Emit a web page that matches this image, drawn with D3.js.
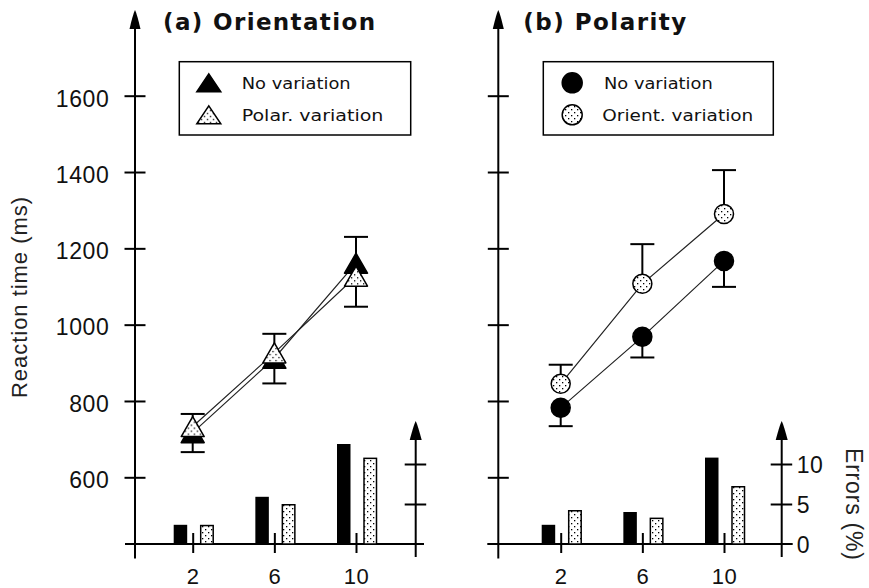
<!DOCTYPE html>
<html><head><meta charset="utf-8">
<script src="https://cdn.jsdelivr.net/npm/d3@7"></script>
<style>body{margin:0;background:#fff} svg{display:block}</style>
</head><body>
<svg id="c" width="869" height="588"></svg>
<script>
// ---------- data ----------
const setSizes = [2, 6, 10];
const rtTicks = [600, 800, 1000, 1200, 1400, 1600];
const errTicks = [0, 5, 10];
const titles = ["(a) Orientation", "(b) Polarity"];
const legendA = ["No variation", "Polar. variation"];
const legendB = ["No variation", "Orient. variation"];
// (a) Orientation
const orientNoVarRT = [717, 912, 1161];
const orientNoVarSE = [51, 66, 114];      // drawn downward
const orientPolarVarRT = [733, 926, 1127];
const orientPolarVarSE = [33, 50, 103];   // drawn upward
const orientNoVarErr = [2.4, 5.9, 12.5];
const orientPolarVarErr = [2.4, 5.0, 10.8];
// (b) Polarity
const polarNoVarRT = [782, 968, 1167];
const polarNoVarSE = [48, 54, 68];        // drawn downward
const polarOrientVarRT = [845, 1107, 1290];
const polarOrientVarSE = [50, 104, 115];  // drawn upward
const polarNoVarErr = [2.4, 4.0, 10.8];
const polarOrientVarErr = [4.25, 3.3, 7.25];

// ---------- layout ----------
const FONT = "'Liberation Sans', Arial, Helvetica, sans-serif";
const WIDE = "'DejaVu Sans', Verdana, sans-serif";
const svg = d3.select("#c");
const defs = svg.append("defs");
const pat = defs.append("pattern").attr("id", "dots").attr("patternUnits", "userSpaceOnUse")
  .attr("width", 6).attr("height", 6);
pat.append("rect").attr("width", 6).attr("height", 6).attr("fill", "#fff");
pat.append("rect").attr("x", 1).attr("y", 1).attr("width", 1.3).attr("height", 1.3).attr("fill", "#000");
pat.append("rect").attr("x", 4).attr("y", 4).attr("width", 1.3).attr("height", 1.3).attr("fill", "#000");

const yRT = d3.scaleLinear().domain([600, 1600]).range([477.3, 95.7]);
const yErr = d3.scaleLinear().domain([0, 10]).range([544, 464]);
const baseY = 544;

const panels = [
  { title: titles[0], titleX: 163, titleLen: 212, xr: [192.7, 356], axisX: 135, xFrom: 125, xTo: 424,
    errX: 415.7, showLabels: true, shape: "tri",
    noRT: orientNoVarRT, noSE: orientNoVarSE, varRT: orientPolarVarRT, varSE: orientPolarVarSE,
    noErr: orientNoVarErr, varErr: orientPolarVarErr,
    legend: legendA, legBox: [179.3, 61.7, 231.4, 73.3], legSymX: 208.8, legTextX: [241.7, 241.7], legLen: [109, 141.7] },
  { title: titles[1], titleX: 523.3, titleLen: 163, xr: [560.7, 724], axisX: 498.3, xFrom: 487.3, xTo: 792.7,
    errX: 781.7, showLabels: false, shape: "circ",
    noRT: polarNoVarRT, noSE: polarNoVarSE, varRT: polarOrientVarRT, varSE: polarOrientVarSE,
    noErr: polarNoVarErr, varErr: polarOrientVarErr,
    legend: legendB, legBox: [543.3, 61.7, 230, 73.3], legSymX: 572.2, legTextX: [604, 602.3], legLen: [108.7, 151] }
];

function triPath(w, h) {
  return `M0,${-h/2}L${w/2},${h/2}L${-w/2},${h/2}Z`;
}
function arrow(g, x, tipY, w, h) {
  g.append("path").attr("d", `M${x},${tipY}Q${x + 2},${tipY + 4} ${x + w/2},${tipY + h}L${x - w/2},${tipY + h}Q${x - 2},${tipY + 4} ${x},${tipY}Z`)
    .attr("fill", "#000");
}
function marker(g, shape, filled, x, y) {
  const fill = filled ? "#000" : "url(#dots)";
  if (shape === "tri") {
    g.append("path").attr("d", triPath(23, 20)).attr("transform", `translate(${x},${y})`)
      .attr("fill", fill).attr("stroke", "#000").attr("stroke-width", 1.5).attr("stroke-linejoin", "round");
  } else {
    g.append("circle").attr("cx", x).attr("cy", y).attr("r", 9.5)
      .attr("fill", fill).attr("stroke", "#000").attr("stroke-width", 1.5);
  }
}

panels.forEach(p => {
  const g = svg.append("g");
  const x = d3.scaleLinear().domain([2, 10]).range(p.xr);

  // title
  g.append("text").attr("x", p.titleX).attr("y", 29.5).attr("font-family", WIDE)
    .attr("font-weight", "bold").attr("font-size", 23).attr("textLength", p.titleLen)
    .attr("lengthAdjust", "spacing").attr("fill", "#111").text(p.title);

  // RT axis
  g.append("line").attr("x1", p.axisX).attr("x2", p.axisX).attr("y1", 558.5).attr("y2", 24)
    .attr("stroke", "#000").attr("stroke-width", 2);
  arrow(g, p.axisX, 10, 11, 19);
  const ya = g.append("g").attr("transform", `translate(${p.axisX},0)`)
    .call(d3.axisLeft(yRT).tickValues(rtTicks).tickSize(10).tickPadding(26)
      .tickFormat(p.showLabels ? d3.format("d") : () => ""));
  ya.select(".domain").remove();
  ya.selectAll(".tick line").attr("x1", -10.5).attr("x2", 10.5).attr("stroke", "#000").attr("stroke-width", 2);
  ya.selectAll(".tick text").attr("font-family", FONT).attr("font-size", 23).attr("fill", "#111")
    .attr("dy", 0).attr("y", 10.3).attr("x", -25.7).attr("letter-spacing", 0.6);

  // x axis
  g.append("line").attr("x1", p.xFrom).attr("x2", p.xTo).attr("y1", baseY).attr("y2", baseY)
    .attr("stroke", "#000").attr("stroke-width", 2);
  const xa = g.append("g").attr("transform", `translate(0,${baseY})`)
    .call(d3.axisBottom(x).tickValues(setSizes).tickSize(9));
  xa.select(".domain").remove();
  xa.selectAll(".tick line").attr("y1", -11).attr("y2", 9).attr("stroke", "#000").attr("stroke-width", 2);
  xa.selectAll(".tick text").attr("font-family", FONT).attr("font-size", 22).attr("fill", "#111")
    .attr("dy", 0).attr("y", 39.5).attr("letter-spacing", 0.5);

  // error axis
  g.append("line").attr("x1", p.errX).attr("x2", p.errX).attr("y1", 557).attr("y2", 436)
    .attr("stroke", "#000").attr("stroke-width", 2);
  arrow(g, p.errX, 421, 12, 19);
  const ea = g.append("g").attr("transform", `translate(${p.errX},0)`)
    .call(d3.axisRight(yErr).tickValues(errTicks.filter(d => d > 0 || !p.showLabels))
      .tickSize(10).tickFormat(p.showLabels ? () => "" : d3.format("d")));
  ea.select(".domain").remove();
  ea.selectAll(".tick line").attr("x1", -11).attr("x2", 10.5).attr("stroke", "#000").attr("stroke-width", 2);
  ea.selectAll(".tick text").attr("font-family", FONT).attr("font-size", 23).attr("fill", "#111")
    .attr("dy", 0).attr("y", 8.7).attr("x", 15).attr("text-anchor", "start").attr("letter-spacing", 0.6);
  ea.selectAll(".tick").filter(d => d === 0).select("line").remove();

  // bars
  const bw = 13.5;
  g.selectAll(".barNo").data(setSizes).join("rect")
    .attr("x", (d) => x(d) - 19).attr("width", bw)
    .attr("y", (d, i) => yErr(p.noErr[i])).attr("height", (d, i) => baseY - yErr(p.noErr[i]))
    .attr("fill", "#000");
  g.selectAll(".barVar").data(setSizes).join("rect")
    .attr("x", (d) => x(d) + 8).attr("width", bw - 1)
    .attr("y", (d, i) => yErr(p.varErr[i]) + 0.75).attr("height", (d, i) => baseY - yErr(p.varErr[i]) - 0.75)
    .attr("fill", "url(#dots)").attr("stroke", "#000").attr("stroke-width", 1.5);

  // error bars (variation: up, no variation: down)
  const ebar = (rt, se, dir) => {
    setSizes.forEach((s, i) => {
      const cx = x(s), y0 = yRT(rt[i]), y1 = yRT(rt[i] + dir * se[i]);
      g.append("line").attr("x1", cx).attr("x2", cx).attr("y1", y0).attr("y2", y1)
        .attr("stroke", "#000").attr("stroke-width", 2);
      g.append("line").attr("x1", cx - 12).attr("x2", cx + 12).attr("y1", y1).attr("y2", y1)
        .attr("stroke", "#000").attr("stroke-width", 2);
    });
  };
  ebar(p.noRT, p.noSE, -1);
  ebar(p.varRT, p.varSE, 1);

  // lines
  const line = d3.line().x(d => x(d[0])).y(d => yRT(d[1]));
  [p.noRT, p.varRT].forEach(rt => {
    g.append("path").attr("d", line(setSizes.map((s, i) => [s, rt[i]])))
      .attr("fill", "none").attr("stroke", "#222").attr("stroke-width", 1.2);
  });

  // markers
  setSizes.forEach((s, i) => marker(g, p.shape, true, x(s), yRT(p.noRT[i])));
  setSizes.forEach((s, i) => marker(g, p.shape, false, x(s), yRT(p.varRT[i])));

  // legend
  const [lx, ly, lw, lh] = p.legBox;
  g.append("rect").attr("x", lx).attr("y", ly).attr("width", lw).attr("height", lh)
    .attr("fill", "#fff").attr("stroke", "#000").attr("stroke-width", 1.5);
  const rowsY = [82.8, 114.8];
  const baseL = [89.3, 120.7];
  p.legend.forEach((t, i) => {
    if (p.shape === "tri") {
      g.append("path").attr("d", triPath(24, 18)).attr("transform", `translate(${p.legSymX},${rowsY[i]})`)
        .attr("fill", i === 0 ? "#000" : "url(#dots)").attr("stroke", "#000").attr("stroke-width", 1.5);
    } else {
      g.append("circle").attr("cx", p.legSymX).attr("cy", rowsY[i]).attr("r", 10)
        .attr("fill", i === 0 ? "#000" : "url(#dots)").attr("stroke", "#000").attr("stroke-width", 1.5);
    }
    g.append("text").attr("x", p.legTextX[i]).attr("y", baseL[i]).attr("font-family", WIDE)
      .attr("font-size", 16.5).attr("textLength", p.legLen[i]).attr("lengthAdjust", "spacingAndGlyphs")
      .attr("fill", "#111").text(t);
  });
});

// axis titles
svg.append("text").attr("transform", "translate(26.5,297.5) rotate(-90)")
  .attr("text-anchor", "middle").attr("font-family", FONT).attr("font-size", 22)
  .attr("textLength", 201).attr("lengthAdjust", "spacing").attr("fill", "#222").text("Reaction time (ms)");
svg.append("text").attr("transform", "translate(845.5,504) rotate(90)")
  .attr("text-anchor", "middle").attr("font-family", FONT).attr("font-size", 23)
  .attr("textLength", 112).attr("lengthAdjust", "spacing").attr("fill", "#222").text("Errors (%)");
</script>
</body></html>
